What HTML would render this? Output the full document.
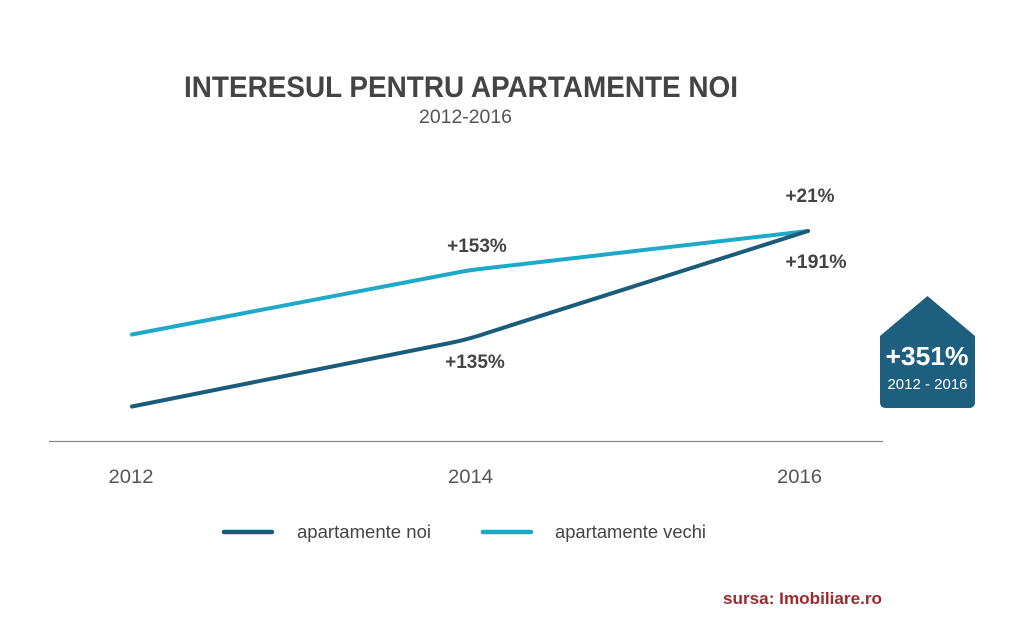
<!DOCTYPE html>
<html>
<head>
<meta charset="utf-8">
<style>
  html, body { margin:0; padding:0; background:#ffffff; }
  body { width:1023px; height:633px; overflow:hidden; }
  svg { display:block; }
  text { font-family: "Liberation Sans", "DejaVu Sans", sans-serif; }
</style>
</head>
<body>
<svg width="1023" height="633" viewBox="0 0 1023 633" xmlns="http://www.w3.org/2000/svg">
  <rect x="0" y="0" width="1023" height="633" fill="#ffffff"/>

  <!-- Title -->
  <text x="184" y="97" font-size="30" font-weight="bold" fill="#444444" textLength="554" lengthAdjust="spacingAndGlyphs">INTERESUL PENTRU APARTAMENTE NOI</text>
  <text x="419" y="123" font-size="19" fill="#555555" textLength="93" lengthAdjust="spacingAndGlyphs">2012-2016</text>

  <!-- Axis -->
  <line x1="49" y1="441.5" x2="883" y2="441.5" stroke="#8a8a8a" stroke-width="1.3"/>

  <!-- Tick labels -->
  <text x="108.5" y="483" font-size="19.5" fill="#555555" textLength="45" lengthAdjust="spacingAndGlyphs">2012</text>
  <text x="448" y="483" font-size="19.5" fill="#555555" textLength="45" lengthAdjust="spacingAndGlyphs">2014</text>
  <text x="777" y="483" font-size="19.5" fill="#555555" textLength="45" lengthAdjust="spacingAndGlyphs">2016</text>

  <!-- Series: apartamente vechi (light) -->
  <path d="M132,334.5 L460,272 Q470,270 480,269 L808,231" fill="none" stroke="#1fa9c9" stroke-width="4" stroke-linecap="round" stroke-linejoin="round"/>
  <!-- Series: apartamente noi (dark) -->
  <path d="M132,406.5 L450,343 Q470,339 490,332 L808,231" fill="none" stroke="#1b5c7b" stroke-width="4" stroke-linecap="round" stroke-linejoin="round"/>

  <!-- Data labels -->
  <text x="477" y="252" font-size="19" font-weight="bold" fill="#444444" text-anchor="middle">+153%</text>
  <text x="475" y="368" font-size="19" font-weight="bold" fill="#444444" text-anchor="middle">+135%</text>
  <text x="810" y="202" font-size="19" font-weight="bold" fill="#444444" text-anchor="middle">+21%</text>
  <text x="816" y="268" font-size="19.5" font-weight="bold" fill="#444444" text-anchor="middle">+191%</text>

  <!-- House badge -->
  <path d="M927.5,296 L975,336 L975,402 Q975,408 969,408 L886,408 Q880,408 880,402 L880,336 Z" fill="#1e5f80"/>
  <text x="885.5" y="365" font-size="26" font-weight="bold" fill="#ffffff" textLength="83" lengthAdjust="spacingAndGlyphs">+351%</text>
  <text x="927.5" y="389" font-size="15" fill="#ffffff" text-anchor="middle">2012 - 2016</text>

  <!-- Legend -->
  <line x1="224" y1="532" x2="272" y2="532" stroke="#1b5c7b" stroke-width="4.5" stroke-linecap="round"/>
  <text x="297" y="538" font-size="18.5" fill="#444444" textLength="134" lengthAdjust="spacingAndGlyphs">apartamente noi</text>
  <line x1="483" y1="532" x2="531" y2="532" stroke="#1fa9c9" stroke-width="4.5" stroke-linecap="round"/>
  <text x="555" y="538" font-size="18.5" fill="#444444" textLength="151" lengthAdjust="spacingAndGlyphs">apartamente vechi</text>

  <!-- Source -->
  <text x="723" y="604" font-size="17" font-weight="bold" fill="#9b2a2f" textLength="159" lengthAdjust="spacingAndGlyphs">sursa: Imobiliare.ro</text>
</svg>
</body>
</html>
